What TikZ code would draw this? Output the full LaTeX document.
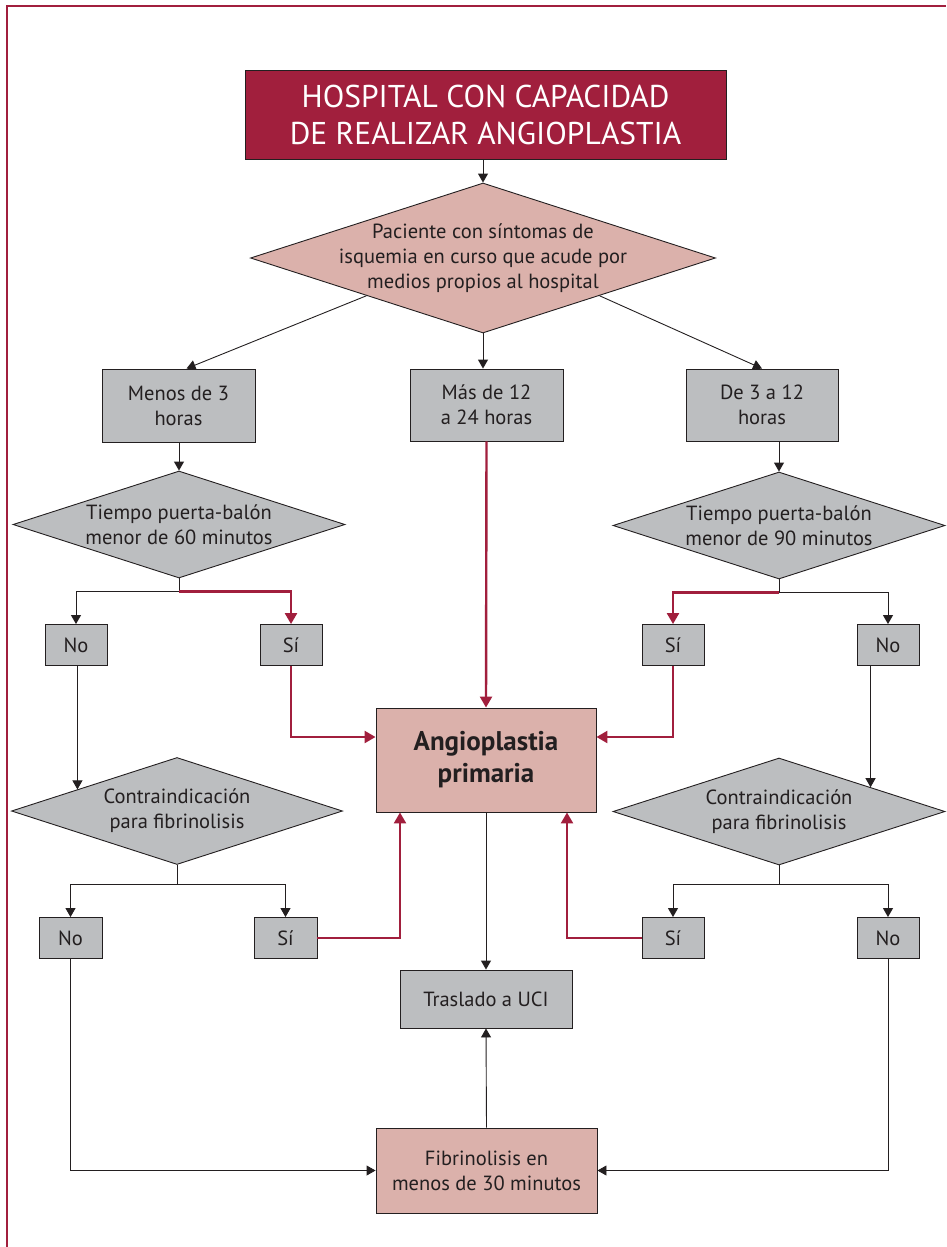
\documentclass[tikz,border=0pt]{standalone}
\usepackage{fontspec}
\setmainfont{PT Sans}
\usetikzlibrary{shapes.geometric, arrows.meta, calc}
\definecolor{vino}{HTML}{A11F3D}
\definecolor{rosa}{HTML}{DBB1AB}
\definecolor{gris}{HTML}{BCBEC0}
\definecolor{tinta}{HTML}{231F20}
\tikzset{caja/.style={draw=tinta, line width=0.9pt, fill=gris, align=center,
    inner sep=0pt, text=tinta, font=\fontsize{20.5}{25}\selectfont},
  rombo/.style={diamond, draw=tinta, line width=0.9pt, fill=gris, inner sep=0pt},
  texto/.style={align=center, text=tinta, font=\fontsize{20.5}{25}\selectfont},
  flecha/.style={draw=tinta, line width=0.9pt, -{Triangle[length=9pt,width=10pt]}},
  roja/.style={draw=vino, line width=2.4pt, -{Triangle[length=11pt,width=12pt]}}
}

\begin{document}
\begin{tikzpicture}[x=1pt, y=-1pt]
      \useasboundingbox (0,0) rectangle (946,1247);
      \draw[vino, line width=2.6pt] (946,6) -- (7,6) -- (7,1247);
      \node[caja, fill=vino, text=white, minimum width=481pt, minimum height=89pt,
        font=\fontsize{31.5}{37}\selectfont] (hosp) at (485.5,114.5) {HOSPITAL CON CAPACIDAD\\DE REALIZAR ANGIOPLASTIA};
      \node[rombo, fill=rosa, minimum width=465pt, minimum height=150pt] (pac) at (483,258) {};
      \node[texto] at (pac) {Paciente con síntomas de\\isquemia en curso que acude por\\medios propios al hospital};
      \node[caja, minimum width=153pt, minimum height=73pt] (menos) at (178.5,405.5) {Menos de 3\\horas};
      \node[caja, minimum width=153pt, minimum height=72pt] (mas) at (486.5,405) {Más de 12\\a 24 horas};
      \node[caja, minimum width=152pt, minimum height=72pt] (de3) at (762,405) {De 3 a 12\\horas};
      \node[rombo, minimum width=332pt, minimum height=107pt] (t60) at (179,524.5) {};
      \node[texto] at (t60) {Tiempo puerta-balón\\menor de 60 minutos};
      \node[rombo, minimum width=332pt, minimum height=107pt] (t90) at (779,525.5) {};
      \node[texto] at (t90) {Tiempo puerta-balón\\menor de 90 minutos};
      \node[caja, minimum width=62pt, minimum height=41pt] (no1) at (76,645) {No};
      \node[caja, minimum width=62pt, minimum height=41pt] (si1) at (291,645) {Sí};
      \node[caja, minimum width=62pt, minimum height=41pt] (si2) at (673,645) {Sí};
      \node[caja, minimum width=62pt, minimum height=41pt] (no2) at (888,645) {No};
      \node[caja, fill=rosa, minimum width=220pt, minimum height=104pt,
        font=\fontsize{27}{32}\selectfont\bfseries] (angio) at (486,760) {Angioplastia\\primaria};
      \node[rombo, minimum width=331pt, minimum height=107pt] (c1) at (177,811) {};
      \node[texto] at (c1) {Contraindicación\\para fibrinolisis};
      \node[rombo, minimum width=332pt, minimum height=107pt] (c2) at (779,811.5) {};
      \node[texto] at (c2) {Contraindicación\\para fibrinolisis};
      \node[caja, minimum width=63pt, minimum height=41pt] (no3) at (70.5,938) {No};
      \node[caja, minimum width=63pt, minimum height=41pt] (si3) at (285.5,938) {Sí};
      \node[caja, minimum width=62pt, minimum height=41pt] (si4) at (673,938) {Sí};
      \node[caja, minimum width=62pt, minimum height=41pt] (no4) at (888,938) {No};
      \node[caja, minimum width=172pt, minimum height=58pt] (trasl) at (486,999) {Traslado a UCI};
      \node[caja, fill=rosa, minimum width=221pt, minimum height=85pt] (fib) at (486.5,1170.5) {Fibrinolisis en\\menos de 30 minutos};
      \coordinate (c1in) at ($(c1.west)!0.4!(c1.north)$);
      \coordinate (c2in) at ($(c2.east)!0.45!(c2.north)$);
      \draw[flecha] (pac.north |- hosp.south) -- (pac.north);
      \draw[flecha] (pac.south west) -- ([xshift=8pt]menos.north);
      \draw[flecha] (pac.south) -- (pac.south |- mas.north);
      \draw[flecha] (pac.south east) -- (de3.north);
      \draw[flecha] (t60.north |- menos.south) -- (t60.north);
      \draw[flecha] (t90.north |- de3.south) -- (t90.north);
      \draw[flecha] (t60.south) -- ++(0,13) -| (no1.north);
      \draw[roja] ([yshift=-13pt]t60.south) -| (si1.north);
      \draw[flecha] (t90.south) -- ++(0,13) -| (no2.north);
      \draw[roja] ([yshift=-13pt]t90.south) -| (si2.north);
      \draw[roja] (mas.south) -- (angio.north);
      \draw[roja] (si1.south) |- ([yshift=23pt]angio.west);
      \draw[roja] (si2.south) |- ([yshift=23pt]angio.east);
      \draw[flecha] (c1in |- no1.south) -- (c1in);
      \draw[flecha] (c2in |- no2.south) -- (c2in);
      \draw[flecha] (c1.south) -- ++(0,19) -| (no3.north);
      \draw[flecha] ([yshift=-19pt]c1.south) -| (si3.north);
      \draw[flecha] (c2.south) -- ++(0,19) -| (si4.north);
      \draw[flecha] ([yshift=-19pt]c2.south) -| (no4.north);
      \draw[roja] (si3.east) -| ([xshift=-86pt]angio.south);
      \draw[roja] (si4.west) -| ([xshift=81pt]angio.south);
      \draw[flecha] (angio.south) -- (trasl.north);
      \draw[flecha] (fib.north) -- (trasl.south);
      \draw[flecha] (no3.south) |- (fib.west);
      \draw[flecha] (no4.south) |- (fib.east);
\end{tikzpicture}
\end{document}
